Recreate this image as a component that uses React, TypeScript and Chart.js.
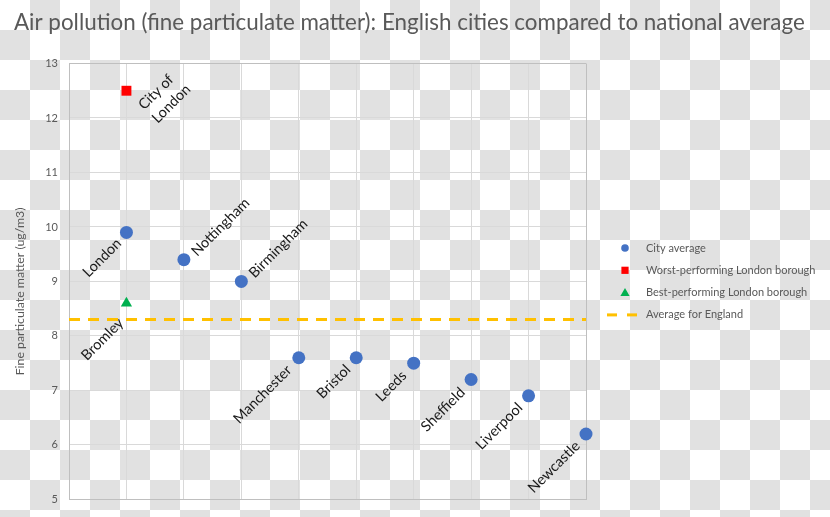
import React, { useEffect, useRef } from "react";
import { Chart, registerables } from "chart.js";

Chart.register(...registerables);

// ---------- data ----------
const TITLE = "Air pollution (fine particulate matter): English cities compared to national average";
const Y_TITLE = "Fine particulate matter (ug/m3)";
const SERIES_NAMES = [
  "City average",
  "Worst-performing London borough",
  "Best-performing London borough",
  "Average for England",
];
const CITIES = ["London", "Nottingham", "Birmingham", "Manchester", "Bristol", "Leeds", "Sheffield", "Liverpool", "Newcastle"];
const CITY_X = [1, 2, 3, 4, 5, 6, 7, 8, 9];
const CITY_PM = [9.9, 9.4, 9.0, 7.6, 7.6, 7.5, 7.2, 6.9, 6.2];
const WORST_NAMES = ["City of\nLondon"];
const WORST_X = [1];
const WORST_PM = [12.5];
const BEST_NAMES = ["Bromley"];
const BEST_X = [1];
const BEST_PM = [8.6];
const ENGLAND_X = [0, 9];
const ENGLAND_PM = [8.3, 8.3];
const Y_MIN = 5;
const Y_MAX = 13;
const X_MIN = 0;
const X_MAX = 9;

// ---------- styles ----------
const FONT = "Lato, 'Open Sans', sans-serif";
const GREY_TEXT = "#595959";
const GRID = "#d9d9d9";
const FRAME = "#bfbfbf";
const BLUE = "#4472c4";
const RED = "#ff0000";
const GREEN = "#00b050";
const GOLD = "#ffc000";

// label placement (style): side and pixel offset of the anchor from the marker
const LABEL_STYLE: Record<string, { side: "left" | "right"; dx: number; dy: number }> = {
  London: { side: "left", dx: -7.5, dy: 8.5 },
  Nottingham: { side: "right", dx: 10, dy: -6 },
  Birmingham: { side: "right", dx: 10, dy: -6 },
  Manchester: { side: "left", dx: -9.5, dy: 10 },
  Bristol: { side: "left", dx: -8, dy: 9.5 },
  Leeds: { side: "left", dx: -9.5, dy: 10 },
  Sheffield: { side: "left", dx: -8.5, dy: 10.5 },
  Liverpool: { side: "left", dx: -8.5, dy: 9.5 },
  Newcastle: { side: "left", dx: -8.5, dy: 9.5 },
  "City of\nLondon": { side: "right", dx: 14.5, dy: 16.5 },
  Bromley: { side: "left", dx: -5.5, dy: 17.5 },
};

const toPts = (xs: number[], ys: number[]) => xs.map((x, i) => ({ x, y: ys[i] }));

function drawMarker(ctx: CanvasRenderingContext2D, style: string, x: number, y: number, color: string) {
  ctx.save();
  ctx.fillStyle = color;
  ctx.strokeStyle = color;
  if (style === "circle") {
    ctx.beginPath();
    ctx.arc(x, y, 3.8, 0, Math.PI * 2);
    ctx.fill();
  } else if (style === "rect") {
    ctx.fillRect(x - 3.6, y - 3.6, 7.2, 7.2);
  } else if (style === "triangle") {
    ctx.beginPath();
    ctx.moveTo(x, y - 4.5);
    ctx.lineTo(x + 4.6, y + 3.5);
    ctx.lineTo(x - 4.6, y + 3.5);
    ctx.closePath();
    ctx.fill();
  } else {
    ctx.lineWidth = 3;
    ctx.setLineDash([10, 10]);
    ctx.beginPath();
    ctx.moveTo(x - 15, y);
    ctx.lineTo(x + 15, y);
    ctx.stroke();
  }
  ctx.restore();
}

const decorPlugin = {
  id: "decor",
  afterDatasetsDraw(chart: any) {
    const ctx: CanvasRenderingContext2D = chart.ctx;
    // data labels
    const labelSets: [number, string[]][] = [
      [0, CITIES],
      [1, WORST_NAMES],
      [2, BEST_NAMES],
    ];
    ctx.save();
    ctx.font = `14.5px ${FONT}`;
    ctx.fillStyle = "#1a1a1a";
    labelSets.forEach(([di, names]) => {
      const meta = chart.getDatasetMeta(di);
      meta.data.forEach((el: any, i: number) => {
        const name = names[i];
        const st = LABEL_STYLE[name] || { side: "left", dx: -8, dy: 9 };
        ctx.save();
        ctx.translate(el.x + st.dx, el.y + st.dy);
        ctx.rotate(-Math.PI / 4);
        ctx.textAlign = st.side === "left" ? "right" : "left";
        ctx.textBaseline = "middle";
        name.split("\n").forEach((line, k) => ctx.fillText(line, 0, k * 19));
        ctx.restore();
      });
    });
    ctx.restore();
  },
  afterDraw(chart: any) {
    const ctx: CanvasRenderingContext2D = chart.ctx;
    const area = chart.chartArea;
    // title
    ctx.save();
    ctx.font = `22.4px ${FONT}`;
    ctx.fillStyle = GREY_TEXT;
    ctx.textAlign = "left";
    ctx.textBaseline = "alphabetic";
    ctx.fillText(TITLE, 14, 30);
    ctx.restore();
    // y axis title
    ctx.save();
    ctx.font = `12.3px ${FONT}`;
    ctx.fillStyle = GREY_TEXT;
    ctx.translate(20, (area.top + area.bottom) / 2 + 10);
    ctx.rotate(-Math.PI / 2);
    ctx.textAlign = "center";
    ctx.textBaseline = "middle";
    ctx.fillText(Y_TITLE, 0, 0);
    ctx.restore();
    // legend
    const styles = chart.data.datasets.map((d: any) => (d.showLine ? "line" : d.pointStyle));
    const colors = chart.data.datasets.map((d: any) => (d.showLine ? d.borderColor : d.backgroundColor));
    const rowH = 22.3;
    const cy = (area.top + area.bottom) / 2 - (rowH * (SERIES_NAMES.length - 1)) / 2;
    const mx = area.right + 39;
    ctx.save();
    ctx.font = `11px ${FONT}`;
    ctx.fillStyle = GREY_TEXT;
    ctx.textAlign = "left";
    ctx.textBaseline = "middle";
    chart.data.datasets.forEach((d: any, i: number) => {
      const y = cy + i * rowH;
      drawMarker(ctx, styles[i], styles[i] === "line" ? mx - 3 : mx, y, colors[i]);
      ctx.fillText(d.label, mx + 21, y);
    });
    ctx.restore();
  },
};

export default function App() {
  const ref = useRef<HTMLCanvasElement | null>(null);

  useEffect(() => {
    document.body.style.margin = "0";
    const canvas = ref.current;
    if (!canvas) return;
    const chart = new Chart(canvas, {
      type: "scatter",
      data: {
        datasets: [
          {
            label: SERIES_NAMES[0],
            data: toPts(CITY_X, CITY_PM),
            pointStyle: "circle",
            pointRadius: 6.5,
            backgroundColor: BLUE,
            borderColor: BLUE,
            borderWidth: 0,
            clip: false,
          },
          {
            label: SERIES_NAMES[1],
            data: toPts(WORST_X, WORST_PM),
            pointStyle: "rect",
            pointRadius: 7,
            backgroundColor: RED,
            borderColor: RED,
            borderWidth: 0,
            clip: false,
          },
          {
            label: SERIES_NAMES[2],
            data: toPts(BEST_X, BEST_PM),
            pointStyle: "triangle",
            pointRadius: 6.5,
            backgroundColor: GREEN,
            borderColor: GREEN,
            borderWidth: 0,
            clip: false,
          },
          {
            label: SERIES_NAMES[3],
            data: toPts(ENGLAND_X, ENGLAND_PM),
            showLine: true,
            pointRadius: 0,
            borderColor: GOLD,
            backgroundColor: GOLD,
            borderWidth: 3,
            borderDash: [11, 8],
            clip: false,
          } as any,
        ],
      },
      options: {
        animation: false,
        responsive: false,
        layout: { padding: { left: 0, right: 244, top: 63.5, bottom: 15 } },
        plugins: {
          legend: { display: false },
          title: { display: false },
          tooltip: { enabled: false },
        },
        scales: {
          x: {
            type: "linear",
            min: X_MIN,
            max: X_MAX,
            ticks: { display: false, stepSize: 1 },
            grid: {
              drawTicks: false,
              color: (c: any) => (c.tick && c.tick.value === X_MAX ? FRAME : GRID),
            },
            border: { display: true, color: FRAME },
            afterFit: (s: any) => {
              s.height = 0;
            },
          },
          y: {
            type: "linear",
            min: Y_MIN,
            max: Y_MAX,
            ticks: { stepSize: 1, color: GREY_TEXT, font: { family: FONT, size: 11 }, padding: 11 },
            grid: {
              drawTicks: false,
              color: (c: any) => (c.tick && c.tick.value === Y_MAX ? FRAME : GRID),
            },
            border: { display: true, color: FRAME },
            title: { display: false },
            afterFit: (s: any) => {
              s.width = 69;
            },
          },
        },
      },
      plugins: [decorPlugin],
    });
    return () => chart.destroy();
  }, []);

  return (
    <div
      style={{
        width: 830,
        height: 517,
        background: "repeating-conic-gradient(#e1e1e1 0% 25%, #ffffff 0% 50%) 0 0 / 60px 60px",
      }}
    >
      <canvas ref={ref} width={830} height={517} style={{ display: "block" }} />
    </div>
  );
}
